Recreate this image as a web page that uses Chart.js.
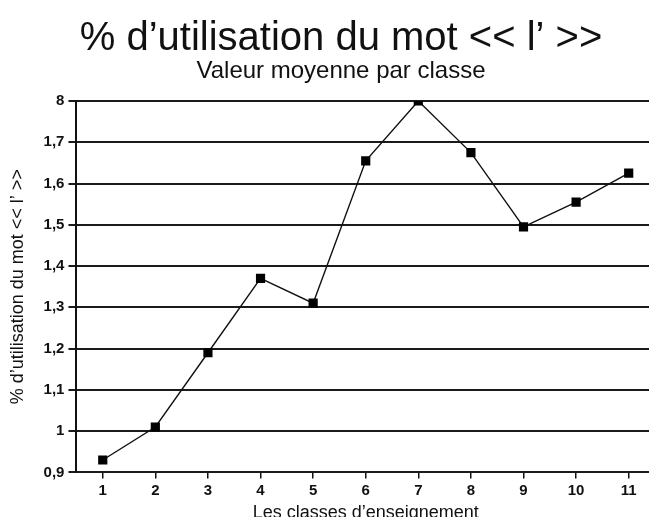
<!DOCTYPE html>
<html>
<head>
<meta charset="utf-8">
<script src="https://cdn.jsdelivr.net/npm/chart.js@4.4.1/dist/chart.umd.min.js"></script>
<style>
  html, body { margin: 0; padding: 0; background: #fff; overflow: hidden; }
  #wrap { width: 690px; height: 526px; }
</style>
</head>
<body>
<div id="wrap"><canvas id="chart"></canvas></div>
<script>
// data
const classes = ['1', '2', '3', '4', '5', '6', '7', '8', '9', '10', '11'];
const usage = [0.93, 1.01, 1.19, 1.37, 1.31, 1.655, 1.80, 1.675, 1.495, 1.555, 1.625];
const yTickLabels = ['0,9', '1', '1,1', '1,2', '1,3', '1,4', '1,5', '1,6', '1,7', '8'];

const font = 'Liberation Sans, Arial, sans-serif';

// the scan's titles sit a bit right of the canvas centre
const shiftTitles = {
    id: 'shiftTitles',
    afterLayout(chart) {
        chart.boxes.forEach(b => {
            if (b.position === 'top' && b.options && 'text' in b.options) {
                b.left += 12;
                b.right += 12;
            }
        });
    },
};

const ctx = document.getElementById('chart').getContext('2d');
new Chart(ctx, {
    type: 'line',
    data: {
        labels: classes,
        datasets: [{
            data: usage,
            borderColor: '#111',
            borderWidth: 1.4,
            backgroundColor: '#000',
            pointStyle: 'rect',
            pointRadius: 6.5,
            pointBorderWidth: 0,
            tension: 0,
        }],
    },
    options: {
        responsive: true,
        maintainAspectRatio: false,
        animation: false,
        layout: { padding: { left: 3, right: 35, top: 19, bottom: 0 } },
        plugins: {
            legend: { display: false },
            tooltip: { enabled: false },
            title: {
                display: true,
                text: '% d\u2019utilisation du mot << l\u2019 >>',
                color: '#111',
                font: { family: font, size: 40, weight: 'normal', lineHeight: 1 },
                padding: { top: 0, bottom: 0 },
            },
            subtitle: {
                display: true,
                text: 'Valeur moyenne par classe',
                color: '#111',
                font: { family: font, size: 24, weight: 'normal', lineHeight: 1 },
                padding: { top: 0, bottom: 18 },
            },
        },
        scales: {
            x: {
                offset: true,
                grid: { drawOnChartArea: false, color: '#111', tickLength: 6, lineWidth: 1.5 },
                border: { display: false },
                ticks: { color: '#111', font: { family: font, size: 15, weight: 'bold' }, padding: 3 },
                title: {
                    display: true,
                    text: 'Les classes d\u2019enseignement',
                    color: '#111',
                    font: { family: font, size: 18 },
                    padding: { top: 0, bottom: 2 },
                },
            },
            y: {
                min: 0.9,
                max: 1.8,
                grid: { color: '#1a1a1a', lineWidth: 2, tickLength: 8 },
                border: { color: '#111', width: 2 },
                ticks: {
                    stepSize: 0.1,
                    color: '#111',
                    font: { family: font, size: 15, weight: 'bold' },
                    padding: 4,
                    callback: (v, i) => yTickLabels[i],
                },
                title: {
                    display: true,
                    text: '% d\u2019utilisation du mot << l\u2019 >>',
                    color: '#111',
                    font: { family: font, size: 18 },
                    padding: { top: 4, bottom: 11 },
                },
            },
        },
    },
    plugins: [shiftTitles],
});
</script>
</body>
</html>
